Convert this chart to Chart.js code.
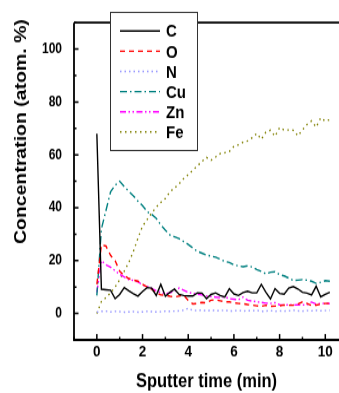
<!DOCTYPE html>
<html>
<head>
<meta charset="utf-8">
<script src="https://cdn.jsdelivr.net/npm/chart.js@4.4.1/dist/chart.umd.min.js"></script>
<style>
  html, body { margin: 0; padding: 0; background: #fff; }
  canvas { display: block; }
</style>
</head>
<body>
<!-- drawn at 339x333 and shown stretched to 339x393, like the original figure -->
<canvas id="depthChart" width="339" height="333" style="width:339px;height:393px"></canvas>
<script>
// sputter time (min)
const time = [0, 0.2, 0.4, 0.6, 0.8, 1, 1.2, 1.4, 1.6, 1.8,
  2, 2.2, 2.4, 2.6, 2.8, 3, 3.2, 3.4, 3.6, 3.8,
  4, 4.2, 4.4, 4.6, 4.8, 5, 5.2, 5.4, 5.6, 5.8,
  6, 6.2, 6.4, 6.6, 6.8, 7, 7.2, 7.4, 7.6, 7.8,
  8, 8.2, 8.4, 8.6, 8.8, 9, 9.2, 9.4, 9.6, 9.8,
  10, 10.2];

// concentrations (atom. %)
const carbon = [68, 9.2, 9.0, 8.8, 5.6, 7.2, 9.8, 8.6, 7.5, 6.6,
  8.3, 9.8, 9.6, 6.8, 11.0, 6.5, 8.0, 9.2, 7.2, 6.8,
  6.6, 6.6, 7.8, 7.7, 5.6, 7.2, 7.8, 6.8, 6.2, 9.4,
  7.4, 6.8, 7.9, 8.4, 7.8, 7.8, 11.0, 8.0, 5.5, 9.4,
  7.6, 7.3, 9.6, 10.2, 9.3, 8.0, 7.7, 7.0, 10.3, 6.3,
  7.2, 8.0];
const oxygen = [11, 26, 25.5, 22, 20, 16, 14.3, 13.2, 12.6, 12.2,
  11, 10, 9.2, 7.8, 7.0, 6.9, 6.5, 6.2, 6.6, 7.0,
  5.0, 3.6, 3.8, 4.2, 4.0, 5.0, 5.2, 4.8, 4.4, 4.4,
  4.0, 3.8, 3.7, 3.4, 3.2, 2.9, 2.7, 3.1, 2.7, 2.8,
  2.9, 3.2, 3.1, 3.2, 3.6, 4.4, 3.8, 3.0, 3.2, 3.5,
  3.8, 3.8];
const nitrogen = [0.5, 0.8, 0.9, 0.6, 0.8, 0.7, 0.5, 0.6, 0.7, 0.5,
  0.6, 0.8, 0.7, 0.6, 0.7, 0.9, 0.8, 0.9, 1.0, 1.2,
  2.0, 1.2, 1.1, 1.3, 1.0, 1.2, 1.1, 1.0, 1.3, 0.9,
  1.0, 1.2, 0.9, 1.1, 1.0, 1.2, 0.8, 0.9, 1.1, 0.8,
  1.0, 0.9, 1.0, 1.2, 1.0, 0.9, 1.1, 1.0, 1.2, 1.0,
  1.1, 1.2];
const copper = [6.8, 32, 39, 46, 48.5, 50, 48, 46.2, 44.5, 42.5,
  40.8, 38.5, 37.5, 36, 33.5, 31.5, 29.7, 29, 28.3, 27.2,
  26.1, 24.8, 23.5, 22.8, 22.1, 21.7, 21.3, 20.5, 19.7, 19.3,
  18.4, 18.0, 17.7, 18.0, 17.6, 16.6, 15.9, 15.0, 15.6, 15.8,
  14.7, 14.2, 13.4, 12.5, 12.6, 12.8, 12.6, 12.2, 11.4, 11.8,
  12.4, 12.2];
const zinc = [8, 20, 18.4, 17.5, 16.2, 14.8, 13.8, 12.8, 12.5, 12,
  10.8, 10.2, 9.5, 8.6, 8.0, 7.5, 7.8, 8.4, 9.6, 8.8,
  8.0, 7.6, 7.3, 7.0, 6.6, 6.4, 6.2, 6.0, 6.3, 5.6,
  5.4, 5.2, 6.2, 5.0, 4.7, 4.4, 4.2, 3.9, 3.8, 4.1,
  3.3, 3.2, 3.3, 3.2, 3.3, 3.2, 3.4, 4.3, 3.5, 3.8,
  3.8, 3.7];
const iron = [0, 4.5, 6, 7.8, 10, 12.8, 16, 19.3, 23.5, 28.5,
  33, 35.5, 38, 40.2, 42, 43.5, 46, 47.5, 49, 51,
  52.5, 54.2, 55.8, 57.5, 59, 58, 59.2, 60.5, 60.8, 61.3,
  63.2, 63.8, 64.8, 65.3, 66.5, 68.1, 65.9, 68.6, 69.3, 67,
  70.3, 69.4, 69.4, 69.3, 67.2, 69.4, 71.5, 72.8, 70.5, 74,
  72.8, 73.3];

const xTicks = [0, 2, 4, 6, 8, 10];
const yTicks = [0, 20, 40, 60, 80, 100];

const fontFamily = '"Liberation Sans", Arial, Helvetica, sans-serif';
const yTitle = 'Concentration (atom. %)';

function series(label, values, color, dash) {
  return {
    label: label,
    data: time.map((t, i) => ({ x: t, y: values[i] })),
    borderColor: color,
    backgroundColor: color,
    borderWidth: 1.4,
    borderDash: dash,
    pointRadius: 0,
    tension: 0,
    fill: false
  };
}

// axes frame, inward ticks, y title and boxed legend
const framePlugin = {
  id: 'frame',
  afterDraw(chart) {
    const ctx = chart.ctx;
    const area = chart.chartArea;
    const xs = chart.scales.x;
    const ys = chart.scales.y;
    ctx.save();
    ctx.strokeStyle = '#000';
    ctx.lineWidth = 1.8;
    ctx.beginPath();
    ctx.moveTo(area.left, area.top);
    ctx.lineTo(area.left, area.bottom);
    ctx.lineTo(area.right + 2, area.bottom);
    ctx.moveTo(area.left, area.top);
    ctx.lineTo(area.right + 2, area.top);
    ctx.stroke();

    ctx.lineWidth = 1.5;
    ctx.beginPath();
    for (let v = -1; v <= 10; v++) {
      const px = xs.getPixelForValue(v);
      const len = v % 2 === 0 ? 5 : 2.5;
      ctx.moveTo(px, area.bottom);
      ctx.lineTo(px, area.bottom - len);
    }
    for (let v = -10; v <= 110; v += 10) {
      const py = ys.getPixelForValue(v);
      const len = v % 20 === 0 ? 4.5 : 2.5;
      ctx.moveTo(area.left, py);
      ctx.lineTo(area.left + len, py);
    }
    ctx.stroke();

    // y axis title
    ctx.save();
    ctx.translate(21, 111.5);
    ctx.rotate(-Math.PI / 2);
    ctx.font = 'bold 16.5px ' + fontFamily;
    ctx.fillStyle = '#000';
    ctx.textAlign = 'center';
    ctx.textBaseline = 'middle';
    ctx.fillText(yTitle, 0, 0);
    ctx.restore();

    // legend
    const bx = 110, by = 10, bw = 87, bh = 117;
    ctx.lineWidth = 1;
    ctx.strokeStyle = '#333';
    ctx.fillStyle = '#fff';
    ctx.fillRect(bx, by, bw, bh);
    ctx.strokeRect(bx + 0.5, by + 0.5, bw, bh);
    ctx.font = 'bold 15px ' + fontFamily;
    ctx.textBaseline = 'middle';
    ctx.textAlign = 'left';
    chart.data.datasets.forEach((ds, i) => {
      const y = 26.3 + i * 17.1;
      ctx.strokeStyle = ds.borderColor;
      ctx.lineWidth = ds.borderWidth;
      ctx.setLineDash(ds.borderDash || []);
      ctx.beginPath();
      ctx.moveTo(120, y);
      ctx.lineTo(160, y);
      ctx.stroke();
      ctx.setLineDash([]);
      ctx.fillStyle = '#000';
      ctx.fillText(ds.label, 166, y + 1);
    });
    ctx.restore();
  }
};

new Chart(document.getElementById('depthChart').getContext('2d'), {
  type: 'line',
  data: {
    datasets: [
      series('C', carbon, '#000000', []),
      series('O', oxygen, '#ff0000', [5, 4]),
      series('N', nitrogen, '#9999ff', [1.5, 3]),
      series('Cu', copper, '#008080', [7, 3, 1.5, 3]),
      series('Zn', zinc, '#ff00ff', [6, 2.5, 1.5, 2.5, 1.5, 2.5]),
      series('Fe', iron, '#808000', [1.5, 3.5])
    ]
  },
  options: {
    responsive: false,
    animation: false,
    devicePixelRatio: 1,
    layout: { padding: { top: 6, right: 0, bottom: 0, left: 0 } },
    plugins: {
      legend: { display: false },
      tooltip: { enabled: false }
    },
    scales: {
      x: {
        type: 'linear',
        min: -1,
        max: 10.6,
        afterBuildTicks: (scale) => { scale.ticks = xTicks.map(v => ({ value: v })); },
        afterFit: (scale) => { scale.height = 45; },
        grid: { display: false, drawTicks: false },
        border: { display: false },
        ticks: {
          padding: 2.5,
          color: '#000',
          font: { family: fontFamily, size: 13.5, weight: 'bold' }
        },
        title: {
          display: true,
          text: 'Sputter time (min)',
          color: '#000',
          font: { family: fontFamily, size: 16.5, weight: 'bold' },
          padding: { top: 0, bottom: 0 }
        }
      },
      y: {
        type: 'linear',
        min: -10,
        max: 110,
        afterBuildTicks: (scale) => { scale.ticks = yTicks.map(v => ({ value: v })); },
        afterFit: (scale) => { scale.width = 74; },
        grid: { display: false, drawTicks: false },
        border: { display: false },
        ticks: {
          padding: 12,
          color: '#000',
          font: { family: fontFamily, size: 12, weight: 'bold' }
        },
        title: { display: false }
      }
    }
  },
  plugins: [framePlugin]
});
</script>
</body>
</html>
